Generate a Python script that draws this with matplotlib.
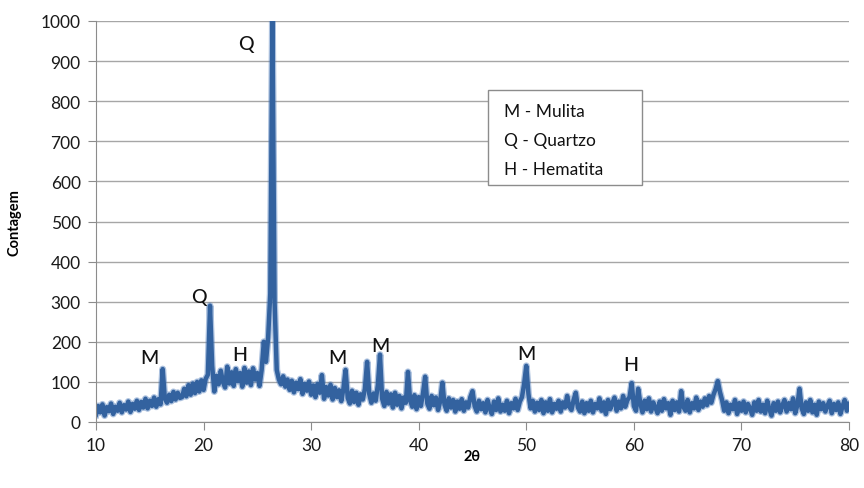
import numpy as np
import matplotlib
matplotlib.use("Agg")
import matplotlib.pyplot as plt
from matplotlib.patches import Rectangle

plt.rcParams['font.family'] = ['Lato', 'DejaVu Sans']

# 2theta from 10 to 80 in steps of 0.2 deg
two_theta_start = 10.0
two_theta_step = 0.2
counts = [
    18, 40, 24, 44, 16, 37, 27, 46, 20, 38,      # 10.0
    28, 48, 24, 42, 31, 51, 25, 45, 33, 53,      # 12.0
    30, 50, 36, 58, 34, 53, 40, 61, 38, 57,      # 14.0
    44, 132, 58, 48, 68, 52, 75, 56, 73, 60,     # 16.0
    62, 83, 64, 92, 68, 96, 72, 100, 76, 104,    # 18.0
    80, 108, 118, 290, 140, 76, 115, 94, 128, 100,  # 20.0
    86, 138, 96, 124, 90, 132, 102, 122, 88, 135,   # 22.0
    98, 126, 92, 134, 106, 122, 90, 130, 200, 150,  # 24.0
    210, 320, 1000, 300, 130, 106, 94, 114, 88, 106, # 26.0
    80, 103, 74, 98, 82, 107, 70, 95, 78, 101,   # 28.0
    68, 91, 62, 95, 73, 117, 58, 87, 66, 93,     # 30.0
    56, 85, 62, 79, 52, 83, 130, 60, 46, 78,     # 32.0
    50, 73, 43, 69, 56, 83, 150, 70, 48, 71,     # 34.0
    53, 92, 168, 58, 40, 75, 46, 69, 36, 73,     # 36.0
    43, 65, 34, 61, 48, 125, 54, 38, 67, 32,     # 38.0
    62, 40, 72, 113, 46, 33, 65, 42, 61, 30,     # 40.0
    52, 98, 43, 28, 59, 36, 55, 26, 51, 33,      # 42.0
    57, 28, 49, 36, 62, 77, 40, 26, 53, 32,      # 44.0
    47, 24, 55, 34, 20, 51, 30, 59, 26, 43,      # 46.0
    28, 53, 22, 47, 34, 58, 30, 51, 62, 95,      # 48.0
    140, 70, 34, 53, 26, 48, 30, 55, 22, 49,     # 50.0
    28, 57, 24, 45, 33, 53, 26, 49, 36, 65,      # 52.0
    38, 30, 55, 73, 36, 26, 51, 22, 47, 28,      # 54.0
    53, 24, 45, 34, 59, 28, 49, 20, 55, 32,      # 56.0
    47, 61, 28, 51, 34, 65, 38, 55, 62, 97,      # 58.0
    40, 28, 83, 47, 24, 53, 32, 59, 26, 49,      # 60.0
    36, 22, 51, 28, 57, 34, 47, 18, 53, 30,      # 62.0
    49, 26, 77, 38, 28, 55, 24, 47, 34, 61,      # 64.0
    30, 51, 38, 59, 42, 65, 48, 68, 82, 102,     # 66.0
    75, 55, 28, 49, 22, 43, 32, 55, 20, 47,      # 68.0
    28, 51, 24, 45, 34, 18, 49, 28, 55, 26,      # 70.0
    43, 22, 53, 32, 16, 47, 28, 51, 24, 41,      # 72.0
    55, 26, 47, 32, 59, 22, 42, 83, 34, 20,      # 74.0
    49, 28, 55, 24, 43, 18, 51, 32, 47, 26,      # 76.0
    41, 53, 22, 45, 30, 49, 20, 39, 55, 28,      # 78.0
    45,                                          # 80.0
]
two_theta = two_theta_start + two_theta_step * np.arange(len(counts))

# peak annotations
peak_labels = ["M", "Q", "H", "Q", "M", "M", "M", "H"]
peak_x = [15.0, 19.6, 23.4, 23.9, 32.4, 36.4, 50.0, 59.7]
peak_y = [162, 312, 168, 945, 160, 192, 170, 143]

legend_lines = ["M - Mulita", "Q - Quartzo", "H - Hematita"]

x_ticks = [10, 20, 30, 40, 50, 60, 70, 80]
y_ticks = [0, 100, 200, 300, 400, 500, 600, 700, 800, 900, 1000]

fig = plt.figure(figsize=(8.64, 4.89), dpi=100)
ax = fig.add_axes([96/864, 1-423/489, (849-96)/864, (423-22)/489])

ax.plot(two_theta, counts, color='#4A78B8', lw=5.0, alpha=0.45, solid_joinstyle='round')
ax.plot(two_theta, counts, color='#33629F', lw=3.2, solid_joinstyle='round')

ax.set_xlim(10, 80)
ax.set_ylim(0, 1000)
ax.set_xticks(x_ticks)
ax.set_yticks(y_ticks)
ax.yaxis.grid(True, color='#A6A6A6', lw=1.0)
ax.set_axisbelow(True)
for s in ['top', 'right']:
    ax.spines[s].set_visible(False)
for s in ['left', 'bottom']:
    ax.spines[s].set_color('#8C8C8C')
ax.tick_params(axis='both', colors='#8C8C8C', labelcolor='#1A1A1A', labelsize=12.5,
               direction='out', length=6)
ax.tick_params(axis='y', pad=5)
ax.tick_params(axis='x', pad=5)

ax.set_xlabel('2θ', fontsize=10.5, fontweight='bold', labelpad=-3)
ax.set_ylabel('Contagem', fontsize=10.5, fontweight='bold', labelpad=14)

for lab, px, py in zip(peak_labels, peak_x, peak_y):
    ax.text(px, py, lab, fontsize=14, ha='center', va='center', color='#111111',
            fontweight='medium')

ax.add_patch(Rectangle((46.4, 592), 14.4, 235, facecolor='white', edgecolor='#8C8C8C',
                       lw=1.0, zorder=5))
for i, line in enumerate(legend_lines):
    ax.text(47.9, 775 - i * 71.5, line, fontsize=12.5, ha='left', va='center',
            color='#111111', zorder=6)

fig.savefig('out.png', dpi=100)
